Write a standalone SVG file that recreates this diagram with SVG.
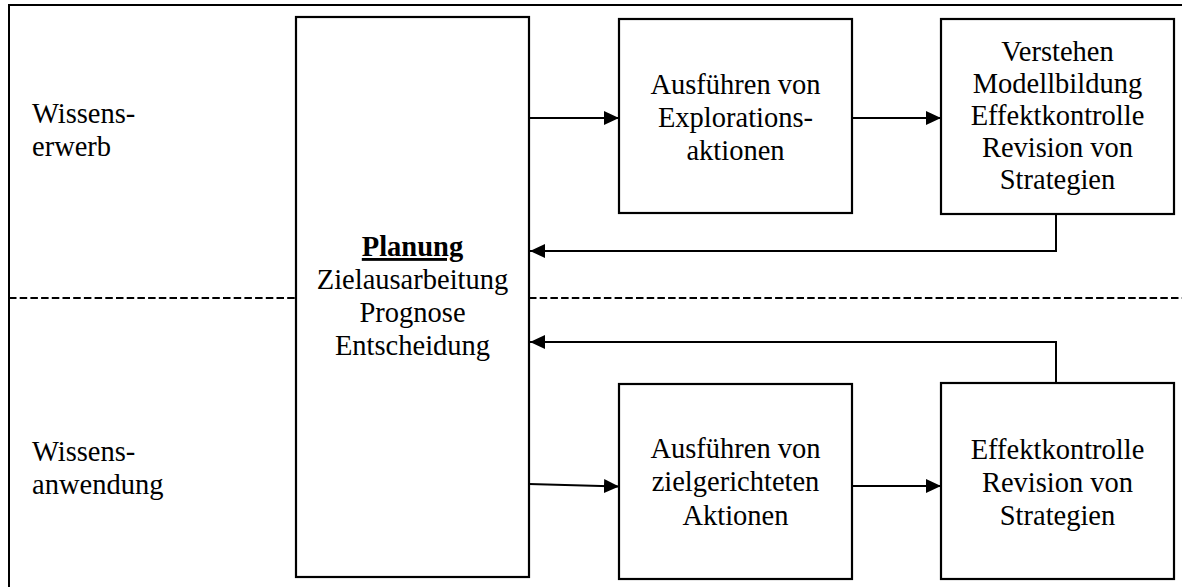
<svg xmlns="http://www.w3.org/2000/svg" width="1182" height="587" viewBox="0 0 1182 587" font-family="'Liberation Serif', 'Times New Roman', Tinos, 'DejaVu Serif', serif">
<defs>
<style>
.box{fill:#fff;stroke:#000;stroke-width:2.2}
.t{font-family:'Liberation Serif', 'Times New Roman', Tinos, 'DejaVu Serif', serif;font-size:28.5px;fill:#000}
.c{text-anchor:middle}
.ln{fill:none;stroke:#000;stroke-width:2}
.dash{fill:none;stroke:#000;stroke-width:2;stroke-dasharray:7.5 3.2}
</style>
<marker id="ah" markerWidth="15" markerHeight="14" refX="15" refY="7" orient="auto" markerUnits="userSpaceOnUse">
<path d="M0,0 L15,7 L0,14 Z" fill="#000"/>
</marker>
</defs>
<rect width="1182" height="587" fill="#fff"/>
<g id="frame">
<path class="ln" d="M9,587 V5 H1182"/>
<line class="dash" x1="9" y1="298" x2="296" y2="298"/>
<line class="dash" x1="529" y1="298" x2="1182" y2="298"/>
<text class="t" x="32" y="123">Wissens-</text>
<text class="t" x="32" y="156">erwerb</text>
<text class="t" x="32" y="461">Wissens-</text>
<text class="t" x="32" y="494">anwendung</text>
</g>
<g id="planung">
<rect class="box" x="296" y="17" width="233" height="560"/>
<text class="t c" x="412.5" y="256" font-weight="bold" text-decoration="underline">Planung</text>
<text class="t c" x="412.5" y="288.5">Zielausarbeitung</text>
<text class="t c" x="412.5" y="321.5">Prognose</text>
<text class="t c" x="412.5" y="355">Entscheidung</text>
</g>
<g id="exploration">
<rect class="box" x="619" y="19" width="233" height="194"/>
<text class="t c" x="735.5" y="93.5">Ausführen von</text>
<text class="t c" x="735.5" y="126.5">Explorations-</text>
<text class="t c" x="735.5" y="160">aktionen</text>
</g>
<g id="verstehen">
<rect class="box" x="941" y="19" width="233" height="195"/>
<text class="t c" x="1057.5" y="61">Verstehen</text>
<text class="t c" x="1057.5" y="93">Modellbildung</text>
<text class="t c" x="1057.5" y="125">Effektkontrolle</text>
<text class="t c" x="1057.5" y="157">Revision von</text>
<text class="t c" x="1057.5" y="189">Strategien</text>
</g>
<g id="zielgerichtet">
<rect class="box" x="619" y="384" width="233" height="195"/>
<text class="t c" x="735.5" y="457.5">Ausführen von</text>
<text class="t c" x="735.5" y="490.5">zielgerichteten</text>
<text class="t c" x="735.5" y="525">Aktionen</text>
</g>
<g id="effektkontrolle">
<rect class="box" x="941" y="383" width="233" height="196"/>
<text class="t c" x="1057.5" y="459">Effektkontrolle</text>
<text class="t c" x="1057.5" y="492">Revision von</text>
<text class="t c" x="1057.5" y="525">Strategien</text>
</g>
<g id="connectors">
<line class="ln" x1="529" y1="118" x2="619" y2="118" marker-end="url(#ah)"/>
<line class="ln" x1="852" y1="118" x2="941" y2="118" marker-end="url(#ah)"/>
<polyline class="ln" points="1056,214 1056,251 530,251" marker-end="url(#ah)"/>
<polyline class="ln" points="1056,383 1056,342 530,342" marker-end="url(#ah)"/>
<line class="ln" x1="529" y1="484" x2="619" y2="486.5" marker-end="url(#ah)"/>
<line class="ln" x1="852" y1="486" x2="941" y2="486" marker-end="url(#ah)"/>
</g>
</svg>
